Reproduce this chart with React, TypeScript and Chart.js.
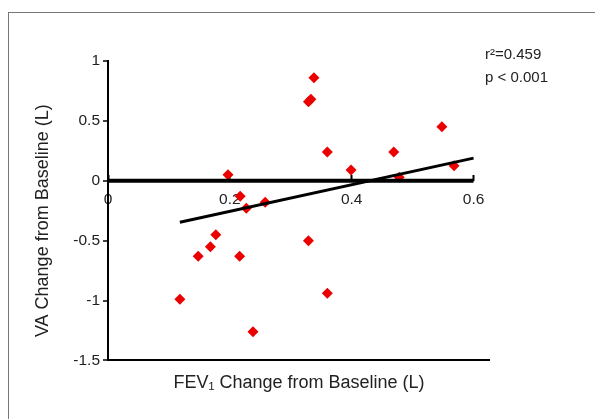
import { useEffect, useRef } from "react";
import { Chart, registerables } from "chart.js";

Chart.register(...registerables);

// Scatter data: FEV1 change (x) vs VA change (y)
const fev1Change = [0.118, 0.148, 0.168, 0.177, 0.197, 0.217, 0.227, 0.216, 0.258, 0.238, 0.329, 0.333, 0.338, 0.329, 0.36, 0.36, 0.399, 0.469, 0.478, 0.548, 0.568];
const vaChange = [-0.99, -0.63, -0.55, -0.45, 0.05, -0.13, -0.23, -0.63, -0.18, -1.26, 0.66, 0.68, 0.86, -0.5, 0.24, -0.94, 0.09, 0.24, 0.03, 0.45, 0.125];

// Regression line end points
const fitX = [0.118, 0.6];
const fitY = [-0.347, 0.189];

// Zero reference line
const zeroLineX = [0, 0.6];
const zeroLineY = [0, 0];

const statsLines = ["r²=0.459", "p < 0.001"];
const xTitle = "FEV₁ Change from Baseline (L)";
const yTitle = "VA Change from Baseline (L)";

const FONT = "'Liberation Sans', Arial, sans-serif";
const TEXT = "#222";

const statsPlugin = {
  id: "stats",
  afterDraw(chart: any) {
    const { ctx, chartArea } = chart;
    ctx.save();
    ctx.font = `15px ${FONT}`;
    ctx.fillStyle = TEXT;
    ctx.textAlign = "left";
    ctx.textBaseline = "middle";
    statsLines.forEach((t, i) => ctx.fillText(t, chartArea.right - 5, chartArea.top - 6 + i * 23));
    ctx.restore();
  },
};

export default function App() {
  const ref = useRef<HTMLCanvasElement | null>(null);

  useEffect(() => {
    if (!ref.current) return;
    const chart = new Chart(ref.current, {
      type: "scatter",
      data: {
        datasets: [
          {
            label: "zero",
            data: zeroLineX.map((x, i) => ({ x, y: zeroLineY[i] })),
            showLine: true,
            borderColor: "#000",
            borderWidth: 4,
            pointRadius: 0,
          },
          {
            label: "fit",
            data: fitX.map((x, i) => ({ x, y: fitY[i] })),
            showLine: true,
            borderColor: "#000",
            borderWidth: 3,
            pointRadius: 0,
          },
          {
            label: "VA vs FEV1",
            data: fev1Change.map((x, i) => ({ x, y: vaChange[i] })),
            pointStyle: "rectRot",
            pointRadius: 5.5,
            backgroundColor: "rgb(235,0,0)",
            borderColor: "rgb(235,0,0)",
            borderWidth: 0,
          },
        ],
      },
      options: {
        animation: false,
        responsive: false,
        layout: { padding: { left: 10, top: 48, right: 105, bottom: 25 } },
        plugins: {
          legend: { display: false },
          tooltip: { enabled: false },
          title: {
            display: true,
            text: xTitle,
            position: "bottom",
            fullSize: false,
            color: TEXT,
            font: { family: FONT, size: 18, weight: "normal" },
            padding: { top: 12, bottom: 0 },
          },
        },
        scales: {
          x: {
            type: "linear",
            position: { y: 0 } as any,
            min: 0,
            max: 0.627,
            border: { display: false },
            grid: {
              drawOnChartArea: false,
              drawTicks: true,
              tickLength: -6,
              tickWidth: 2,
              tickColor: "#000",
            },
            ticks: {
              stepSize: 0.2,
              includeBounds: false,
              padding: 16,
              color: TEXT,
              font: { family: FONT, size: 15.5 },
              maxRotation: 0,
              callback: (v: any) => String(Math.round(Number(v) * 10) / 10),
            },
          },
          y: {
            type: "linear",
            position: "left",
            min: -1.5,
            max: 1,
            afterFit: (scale: any) => {
              scale.width = 89;
            },
            border: { display: true, color: "#000", width: 2 },
            grid: {
              drawOnChartArea: true,
              color: (c: any) => (c.tick && c.tick.value === -1.5 ? "#000" : "rgba(0,0,0,0)"),
              lineWidth: 2,
              drawTicks: true,
              tickLength: 5,
              tickColor: "#000",
              tickWidth: 1.5,
            },
            ticks: {
              stepSize: 0.5,
              padding: 3,
              color: TEXT,
              font: { family: FONT, size: 15.5 },
              callback: (v: any) => String(Math.round(Number(v) * 10) / 10),
            },
            title: {
              display: true,
              text: yTitle + "    ",
              color: TEXT,
              font: { family: FONT, size: 18, weight: "normal" },
              padding: { top: 13, bottom: 0 },
            },
          },
        },
      },
      plugins: [statsPlugin],
    });
    return () => chart.destroy();
  }, []);

  return (
    <div
      style={{
        position: "absolute",
        left: 8,
        top: 12,
        borderLeft: "1px solid #777",
        borderTop: "1px solid #777",
      }}
    >
      <canvas ref={ref} width={586} height={406} style={{ display: "block" }} />
    </div>
  );
}
